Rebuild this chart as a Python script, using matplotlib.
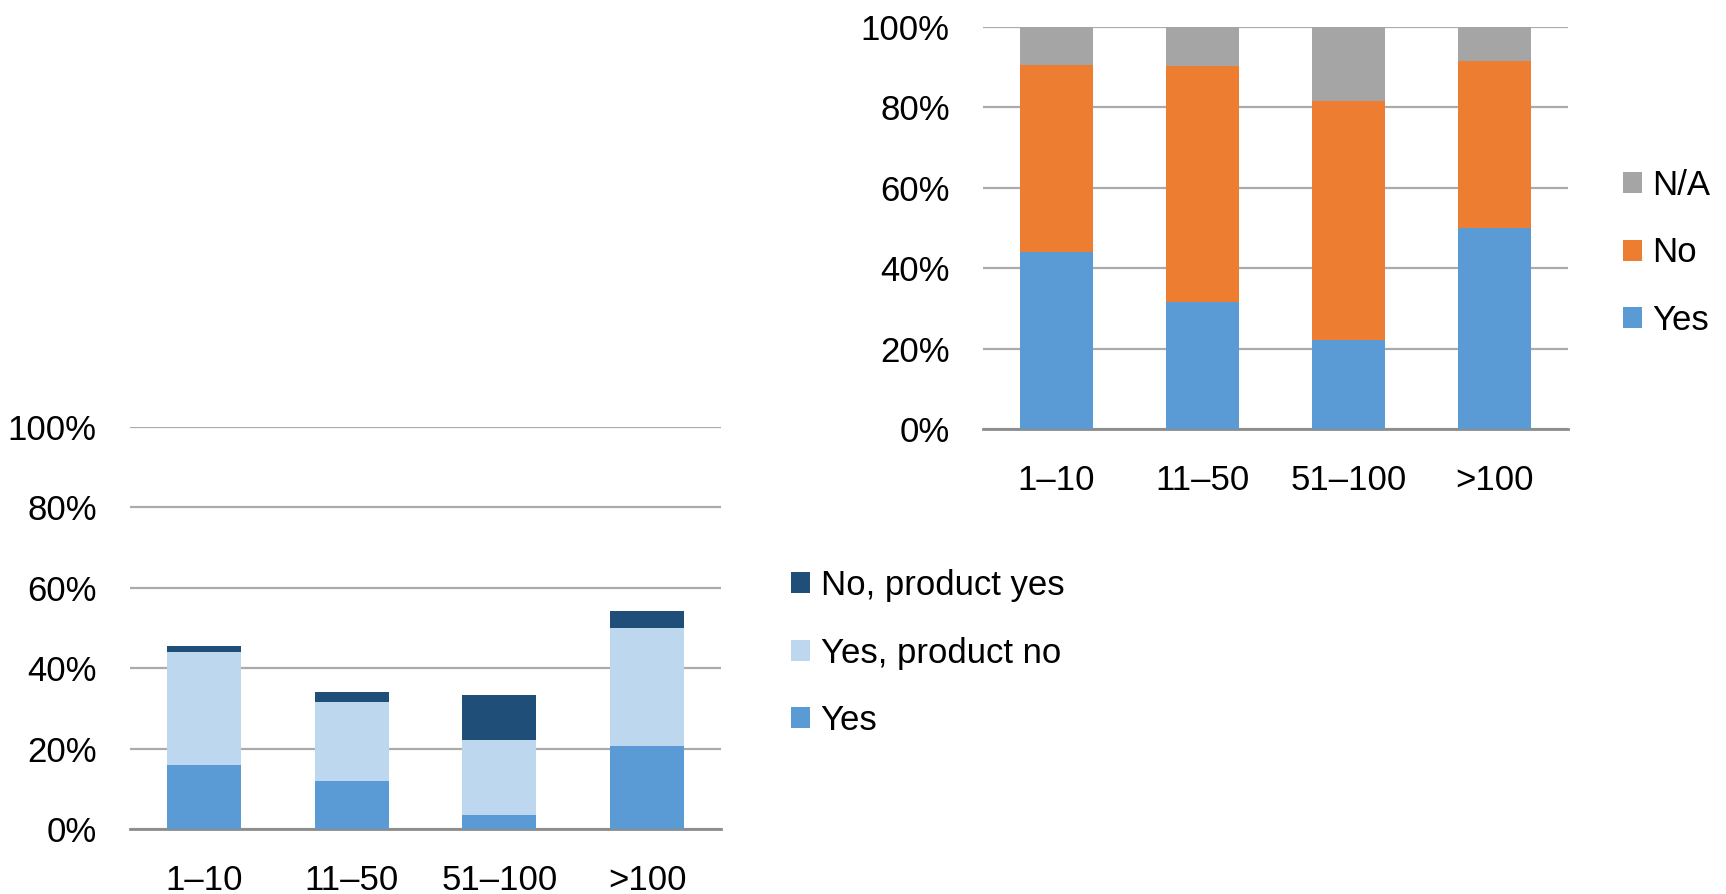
import numpy as np
import matplotlib.pyplot as plt
from matplotlib.ticker import PercentFormatter

categorias = ["1–10", "11–50", "51–100", ">100"]

# grafico da direita: resposta geral
sim = [44.0, 31.6, 22.2, 50.0]
nao = [46.6, 58.7, 59.3, 41.6]
na = [9.4, 9.7, 18.5, 8.4]

# grafico da esquerda: detalhamento do "Yes"
sim_det = [16.0, 12.0, 3.5, 20.7]
sim_produto_nao = [28.0, 19.6, 18.7, 29.3]
nao_produto_sim = [1.4, 2.4, 11.2, 4.2]

AZUL = "#5B9BD5"
LARANJA = "#ED7D31"
CINZA = "#A5A5A5"
AZUL_ESCURO = "#1F4E79"
AZUL_CLARO = "#BDD7EE"

plt.rcParams['font.family'] = ['Liberation Sans Narrow', 'Liberation Sans', 'DejaVu Sans']

W, H = 1726, 894
fig = plt.figure(figsize=(W / 100, H / 100), dpi=100)


def eixo(x0, x1, y_top, y_bot):
    return fig.add_axes([x0 / W, 1 - y_bot / H, (x1 - x0) / W, (y_bot - y_top) / H])


def empilhar(ax, series, cores, nomes):
    xs = np.arange(len(categorias))
    base = np.zeros(len(categorias))
    barras = []
    for vals, cor, nome in zip(series, cores, nomes):
        b = ax.bar(xs, vals, 0.5, bottom=base, color=cor, label=nome, zorder=3)
        barras.append(b)
        base += np.array(vals)
    ax.set_xlim(-0.5, len(categorias) - 0.5)
    ax.set_ylim(0, 100)
    ax.set_yticks(np.arange(0, 101, 20))
    ax.yaxis.set_major_formatter(PercentFormatter(decimals=0))
    ax.set_xticks(xs)
    ax.set_xticklabels(categorias)
    ax.grid(axis="y", color="#ABABAB", linewidth=1.6, zorder=0)
    for lado in ["top", "right", "left"]:
        ax.spines[lado].set_visible(False)
    ax.spines["bottom"].set_color("#8C8C8C")
    ax.spines["bottom"].set_linewidth(2)
    ax.tick_params(axis="both", length=0, labelsize=25)
    ax.tick_params(axis="y", pad=24)
    ax.tick_params(axis="x", pad=25)
    return barras


ax1 = eixo(130, 721, 427, 829)
b1 = empilhar(ax1, [sim_det, sim_produto_nao, nao_produto_sim],
              [AZUL, AZUL_CLARO, AZUL_ESCURO],
              ["Yes", "Yes, product no", "No, product yes"])

ax2 = eixo(983, 1568, 27, 429)
b2 = empilhar(ax2, [sim, nao, na], [AZUL, LARANJA, CINZA], ["Yes", "No", "N/A"])

fonte_leg = {'family': ['Liberation Sans', 'DejaVu Sans'], 'size': 25}
estilo_leg = dict(loc="center left", frameon=False, prop=fonte_leg,
                  handlelength=0.55, handleheight=0.55, handletextpad=0.3,
                  labelspacing=1.0, borderpad=0, borderaxespad=0)
fig.legend(b1[::-1], ["No, product yes", "Yes, product no", "Yes"],
           bbox_to_anchor=(791 / W, 1 - 653 / H), **estilo_leg)
fig.legend(b2[::-1], ["N/A", "No", "Yes"],
           bbox_to_anchor=(1623 / W, 1 - 253 / H), **estilo_leg)

fig.savefig("out.png", dpi=100)
